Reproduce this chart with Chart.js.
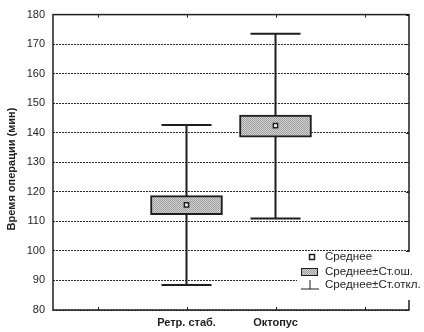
<!DOCTYPE html>
<html>
<head>
<meta charset="utf-8">
<script src="https://cdn.jsdelivr.net/npm/chart.js@4/dist/chart.umd.min.js"></script>
<style>
  html, body { margin: 0; padding: 0; background: #fff; }
  #wrap { width: 424px; height: 332px; }
</style>
</head>
<body>
<div id="wrap"><canvas id="myChart" width="424" height="332"></canvas></div>
<script>
// data
const categories = ["", "Ретр. стаб.", "Октопус", ""];
const means = [null, 115.6, 142.4, null];
const seLow = [null, 112.3, 138.5, null];
const seHigh = [null, 118.7, 146.0, null];
const sdLow = [null, 88.5, 111.0, null];
const sdHigh = [null, 142.6, 173.5, null];
const yTicks = [80, 90, 100, 110, 120, 130, 140, 150, 160, 170, 180];
const legendLabels = ["Среднее", "Среднее±Ст.ош.", "Среднее±Ст.откл."];
const yTitle = "Время операции (мин)";

const ink = "#1e1e1e";
const font = "'Liberation Sans', Arial, sans-serif";

// stippled grey like the scanned fill
function makePattern() {
    const c = document.createElement("canvas");
    c.width = 2; c.height = 2;
    const g = c.getContext("2d");
    g.fillStyle = "#d0d0d0"; g.fillRect(0, 0, 2, 2);
    g.fillStyle = "#a0a0a0"; g.fillRect(0, 0, 1, 1); g.fillRect(1, 1, 1, 1);
    return g.createPattern(c, "repeat");
}
const boxFill = makePattern();

const whiskers = {
    id: "whiskers",
    beforeDatasetsDraw(chart) {
        const ctx = chart.ctx, x = chart.scales.x, y = chart.scales.y;
        ctx.save();
        ctx.strokeStyle = ink;
        ctx.lineWidth = 2;
        for (let i = 0; i < categories.length; i++) {
            if (sdLow[i] == null) continue;
            const px = x.getPixelForValue(i);
            const lo = y.getPixelForValue(sdLow[i]), hi = y.getPixelForValue(sdHigh[i]);
            ctx.beginPath();
            ctx.moveTo(px, lo); ctx.lineTo(px, hi);
            ctx.moveTo(px - 25, lo); ctx.lineTo(px + 25, lo);
            ctx.moveTo(px - 25, hi); ctx.lineTo(px + 25, hi);
            ctx.stroke();
        }
        ctx.restore();
    },
    afterDraw(chart) {
        const ctx = chart.ctx, a = chart.chartArea, x = chart.scales.x, y = chart.scales.y;
        ctx.save();
        // frame
        ctx.strokeStyle = ink;
        ctx.lineWidth = 1.5;
        ctx.strokeRect(a.left, a.top, a.right - a.left, a.bottom - a.top);
        // inner ticks
        ctx.lineWidth = 1;
        ctx.beginPath();
        for (let i = 0; i < categories.length; i++) {
            const px = Math.round(x.getPixelForValue(i)) + 0.5;
            ctx.moveTo(px, a.top); ctx.lineTo(px, a.top + 3);
            ctx.moveTo(px, a.bottom); ctx.lineTo(px, a.bottom - 3);
        }
        yTicks.forEach(v => {
            const py = Math.round(y.getPixelForValue(v)) + 0.5;
            ctx.moveTo(a.right, py); ctx.lineTo(a.right - 3, py);
        });
        ctx.stroke();

        // y title
        ctx.save();
        ctx.translate(12, 169);
        ctx.rotate(-Math.PI / 2);
        ctx.font = "bold 11px " + font;
        ctx.fillStyle = ink;
        ctx.textAlign = "center";
        ctx.textBaseline = "middle";
        ctx.fillText(yTitle, 0, 0);
        ctx.restore();

        // legend over the plot corner
        const lx = 297, ly = 252;
        ctx.fillStyle = "#fff";
        ctx.fillRect(lx, ly, 424 - lx, 48);
        ctx.font = "11.6px " + font;
        ctx.fillStyle = ink;
        ctx.textBaseline = "middle";
        const rows = [257, 272, 285];
        legendLabels.forEach((t, i) => ctx.fillText(t, 325, rows[i]));
        // mean symbol
        ctx.fillStyle = "#fff";
        ctx.lineWidth = 1.5;
        ctx.fillRect(309.5, rows[0] - 2.5, 5, 5);
        ctx.strokeRect(309.5, rows[0] - 2.5, 5, 5);
        // box symbol
        ctx.fillStyle = boxFill;
        ctx.fillRect(301, rows[1] - 4, 17, 8);
        ctx.lineWidth = 1;
        ctx.strokeRect(301.5, rows[1] - 3.5, 16, 7);
        // whisker symbol
        ctx.beginPath();
        ctx.moveTo(310, rows[2] - 5); ctx.lineTo(310, rows[2] + 4);
        ctx.moveTo(301, rows[2] + 4); ctx.lineTo(319, rows[2] + 4);
        ctx.stroke();
        ctx.restore();
    }
};

new Chart(document.getElementById("myChart"), {
    type: "bar",
    data: {
        labels: categories,
        datasets: [
            {
                type: "line",
                data: means,
                showLine: false,
                pointStyle: "rect",
                pointRadius: 3,
                pointBackgroundColor: "#fff",
                pointBorderColor: ink,
                pointBorderWidth: 1.5,
                order: 0
            },
            {
                data: categories.map((c, i) => seLow[i] == null ? null : [seLow[i], seHigh[i]]),
                backgroundColor: boxFill,
                borderColor: ink,
                borderWidth: 2,
                borderSkipped: false,
                barThickness: 72,
                order: 1
            }
        ]
    },
    options: {
        responsive: false,
        animation: false,
        events: [],
        layout: { padding: { top: 11, right: 15, left: 0, bottom: 0 } },
        plugins: { legend: { display: false }, tooltip: { enabled: false } },
        scales: {
            x: {
                offset: true,
                grid: { display: false, drawTicks: false },
                border: { display: false },
                ticks: { color: ink, font: { family: font, size: 11, weight: "bold" }, padding: 6, maxRotation: 0 },
                afterFit(s) { s.height = 22; }
            },
            y: {
                min: 80, max: 180,
                grid: { color: "#2a2a2a", lineWidth: 1, drawTicks: false },
                border: { display: false, dash: [2, 1] },
                ticks: { stepSize: 10, color: ink, font: { family: font, size: 11 }, padding: 8 },
                afterFit(s) { s.width = 53; }
            }
        }
    },
    plugins: [whiskers]
});
</script>
</body>
</html>
